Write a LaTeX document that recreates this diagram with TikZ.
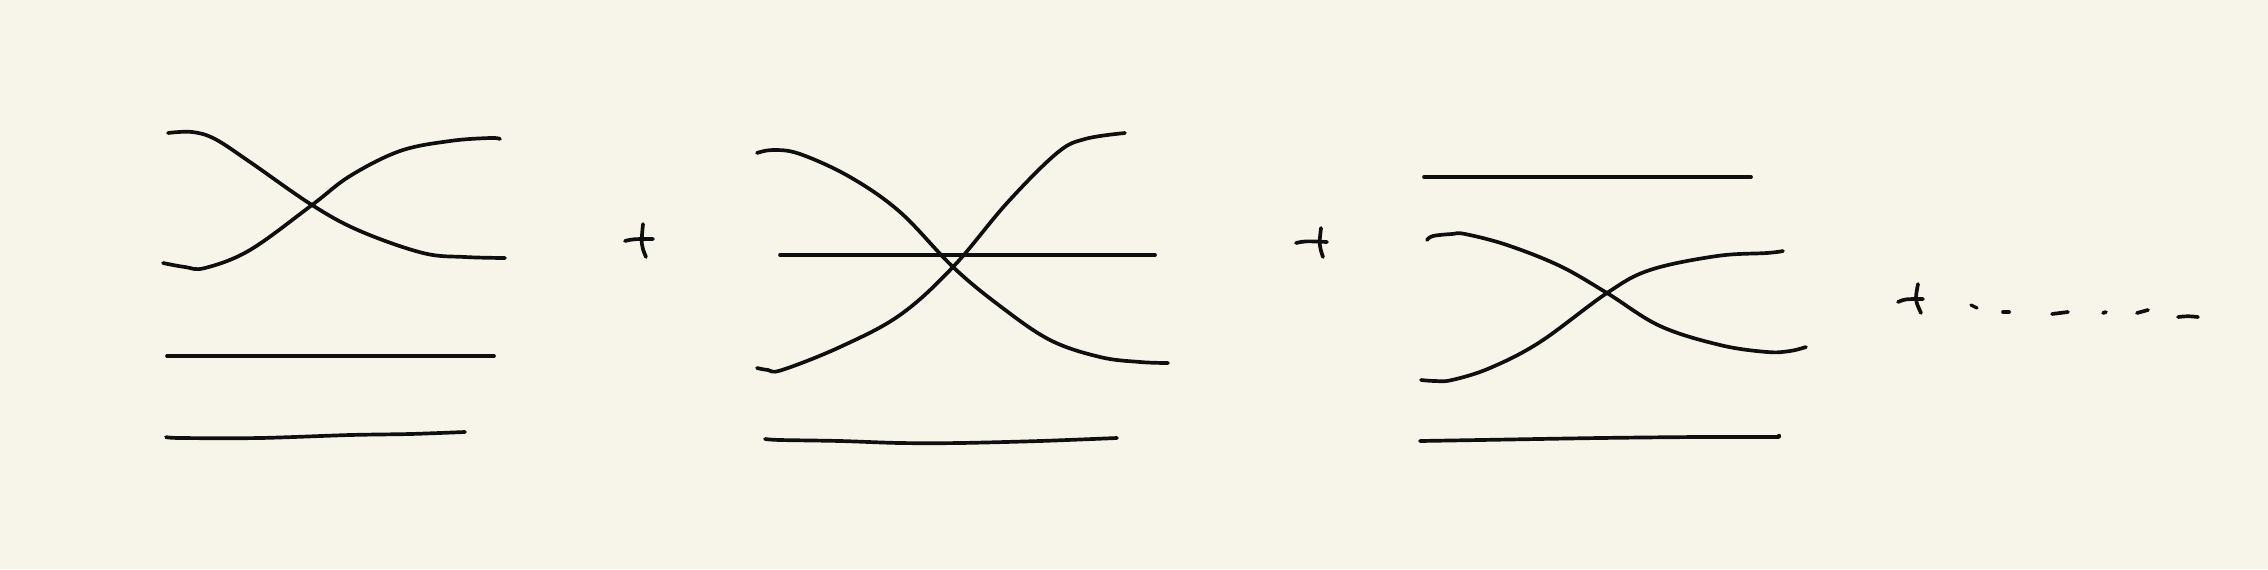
\documentclass[tikz,border=0pt]{standalone}
\definecolor{paper}{RGB}{247,245,233}
\definecolor{ink}{RGB}{15,15,15}
\tikzset{
  sk/.style={draw=ink, line width=1.05pt, line cap=round, line join=round},
  skthin/.style={sk, line width=0.9pt},
}
\begin{document}
\begin{tikzpicture}[x=0.01cm, y=-0.01cm]
\fill[paper] (0,0) rectangle (2268,569);
\useasboundingbox (0,0) rectangle (2268,569);
% ---------- panel 1 ----------
\draw[sk] plot[smooth, tension=0.6] coordinates {(168,133) (192,132) (215,139) (250,162) (312,205) (360,231) (423,253) (465,257) (505,258)};
\draw[sk] plot[smooth, tension=0.6] coordinates {(163,263) (185,267) (205,268) (250,250) (312,205) (350,176) (400,151) (450,141) (490,138) (500,139)};
\draw[sk] (167,356) -- (494,356);
\draw[sk] plot[smooth, tension=0.5] coordinates {(166,437) (180,438) (260,438) (350,435) (410,434) (465,432)};
% plus 1
\draw[sk] (625,241) .. controls (633,239) .. (653,239);
\draw[sk] (643,224) .. controls (641,245) .. (646,257);
% ---------- panel 2 ----------
\draw[sk] plot[smooth, tension=0.6] coordinates {(757,153) (773,150) (800,154) (850,177) (900,212) (953,267) (1000,306) (1050,340) (1100,357) (1140,362) (1168,363)};
\draw[sk] plot[smooth, tension=0.6] coordinates {(757,368) (768,370) (782,370) (840,347) (900,315) (953,267) (1007,203) (1057,153) (1085,139) (1125,133)};
\draw[sk] (780,255) -- (1155,255);
\draw[sk] plot[smooth, tension=0.5] coordinates {(765,439) (780,440) (840,441) (900,443) (960,443) (1040,441) (1117,438)};
% plus 2
\draw[sk] (1296,243) .. controls (1305,241) .. (1327,242);
\draw[sk] (1321,228) .. controls (1319,245) .. (1323,257);
% ---------- panel 3 ----------
\draw[sk] (1424,177) -- (1751,177);
\draw[sk] plot[smooth, tension=0.6] coordinates {(1427,240) (1433,236) (1452,234) (1465,234) (1507,245) (1560,266) (1607,293) (1660,326) (1720,345) (1767,352) (1790,351) (1806,347)};
\draw[sk] plot[smooth, tension=0.6] coordinates {(1421,380) (1435,381) (1452,380) (1490,368) (1540,342) (1607,293) (1650,270) (1717,256) (1767,253) (1783,251)};
\draw[sk] plot[smooth, tension=0.5] coordinates {(1420,441) (1480,440) (1600,438) (1700,437) (1779,437)};
\fill[ink] (1779,436) circle (2.2);
% plus 3 and trailing dashes
\draw[sk] (1898,302) .. controls (1905,299) .. (1923,299);
\draw[sk] (1918,284) .. controls (1915,300) .. (1921,313);
\draw[skthin] (1971,305) -- (1977,308);
\draw[sk] (2003,312) -- (2009,312);
\draw[sk] (2052,314) .. controls (2060,314) .. (2068,312);
\draw[sk] (2103,313) -- (2106,312);
\draw[sk] (2137,313) .. controls (2143,312) .. (2148,310);
\draw[sk] (2178,317) .. controls (2188,316) .. (2198,317);
\end{tikzpicture}
\end{document}
